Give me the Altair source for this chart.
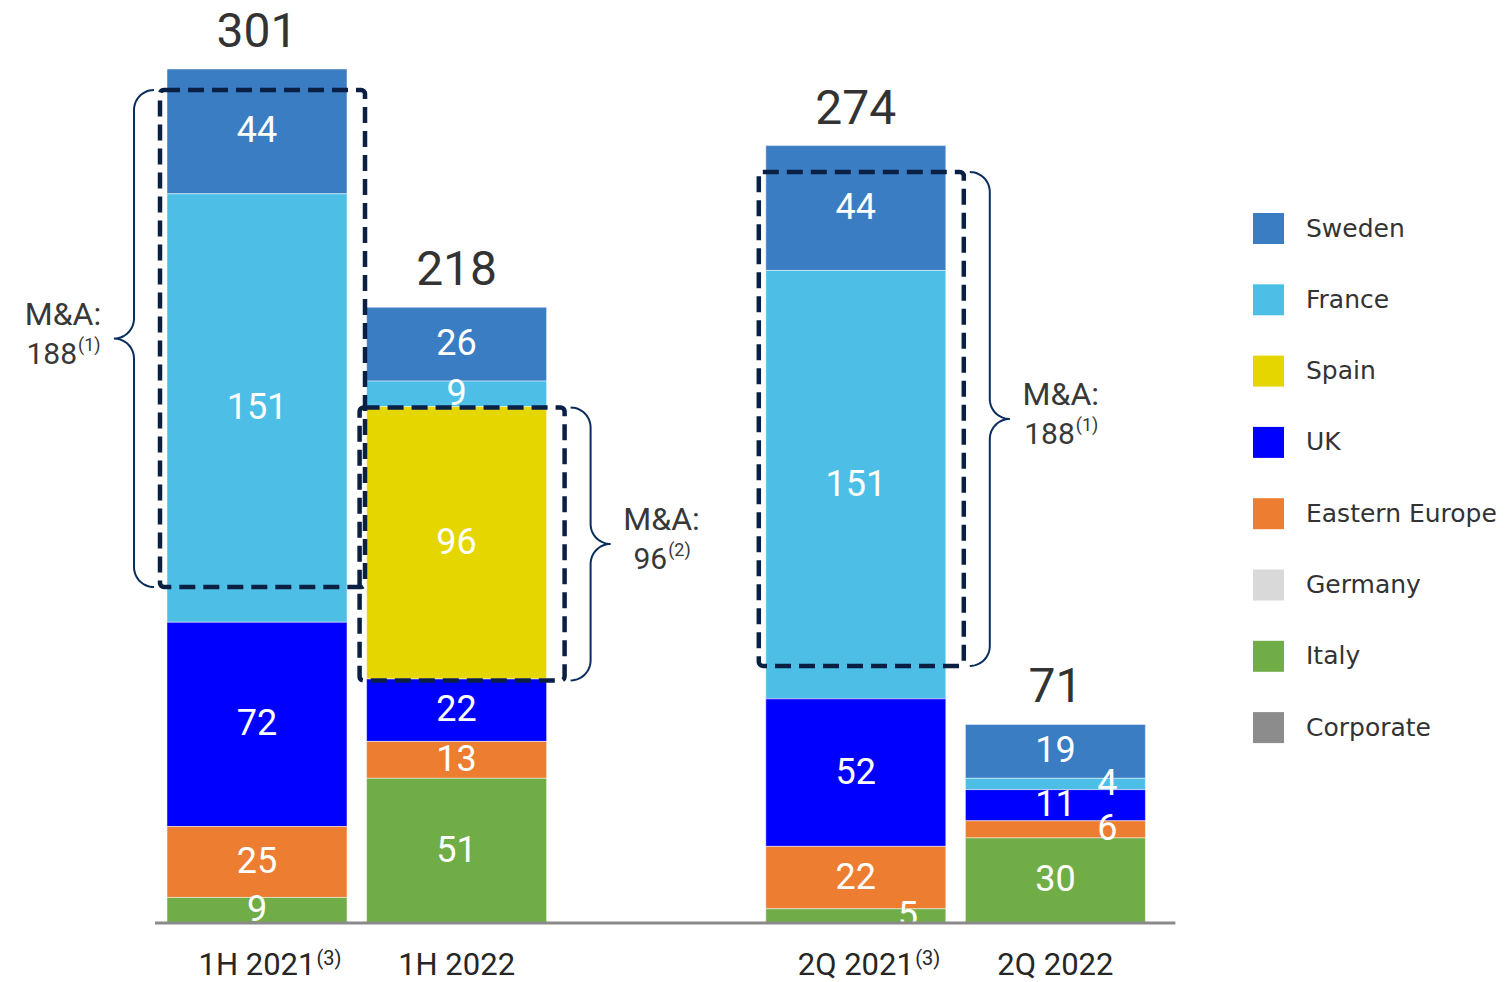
import altair as alt
import pandas as pd
import numpy as np

# ---------------- data ----------------
periods = ["1H 2021", "1H 2022", "2Q 2021", "2Q 2022"]
period_notes = ["(3)", "", "(3)", ""]
regions = ["Sweden", "France", "Spain", "UK", "Eastern Europe", "Germany", "Italy", "Corporate"]
colors = ["#3a7dc3", "#4dbfe6", "#e6d600", "#0000ff", "#ed7d31", "#d9d9d9", "#70ad47", "#8c8c8c"]

sweden = [44, 26, 44, 19]
france = [151, 9, 151, 4]
spain = [0, 96, 0, 0]
uk = [72, 22, 52, 11]
eastern_europe = [25, 13, 22, 6]
germany = [0, 0, 0, 0]
italy = [9, 51, 5, 30]
corporate = [0, 0, 0, 0]
totals = [301, 218, 274, 71]

# labels drawn beside the segment instead of centred (tiny segments)
side_labels = [("2Q 2021", "Italy"), ("2Q 2022", "France"), ("2Q 2022", "Eastern Europe")]

# M&A annotations (value range enclosed by the dashed box)
ma_periods = ["1H 2021", "1H 2022", "2Q 2021"]
ma_low = [118.4, 85.5, 90.6]
ma_high = [293.6, 181.7, 264.7]
ma_side = [-1, 1, 1]
ma_value = ["188", "96", "188"]
ma_note = ["(1)", "(2)", "(1)"]

# ---------------- layout ----------------
W, H = 1511, 982
X0_PX, STEP_PX = 257.0, 199.6       # first bar centre, category step
BASE_PX, PPU = 923.0, 2.8372         # baseline pixel, pixels per unit
x_domain = [(0 - X0_PX) / STEP_PX, (W - X0_PX) / STEP_PX]
y_domain = [(BASE_PX - H) / PPU, BASE_PX / PPU]


def ux(px):
    return px / STEP_PX


def uy(px):
    return px / PPU


pos = {p: i + (1 if i >= 2 else 0) for i, p in enumerate(periods)}

xs = alt.Scale(domain=x_domain, nice=False, zero=False, padding=0)
ys = alt.Scale(domain=y_domain, nice=False, zero=False, padding=0)


def X(f):
    return alt.X(f, type="quantitative", scale=xs, axis=None)


def Y(f):
    return alt.Y(f, type="quantitative", scale=ys, axis=None)


series = {
    "Sweden": sweden, "France": france, "Spain": spain, "UK": uk,
    "Eastern Europe": eastern_europe, "Germany": germany, "Italy": italy,
    "Corporate": corporate,
}
rows = []
for ri, r in enumerate(regions):
    for pi, p in enumerate(periods):
        v = series[r][pi]
        if v > 0:
            rows.append(dict(period=p, region=r, value=v, rank=ri, pos=pos[p],
                             side=(p, r) in side_labels))
df_bars = pd.DataFrame(rows)

FONT = "Roboto"
TXT = "#383838"

base = alt.Chart(df_bars).transform_stack(
    stack="value", as_=["v0", "v1"], groupby=["period"],
    sort=[alt.SortField("rank", order="descending")],
).transform_calculate(mid="(datum.v0 + datum.v1) / 2")

bars = base.mark_bar(size=180, stroke="white", strokeWidth=0.8, strokeOpacity=0.6).encode(
    x=X("pos"),
    y=Y("v0"),
    y2="v1:Q",
    color=alt.Color(
        "region:N",
        scale=alt.Scale(domain=regions, range=colors),
        legend=alt.Legend(
            title=None, orient="none", legendX=1253, legendY=213,
            symbolType="square", symbolSize=961, symbolStrokeWidth=0,
            symbolOpacity=1,
            labelFont="DejaVu Sans", labelFontSize=25, labelColor="#333333",
            labelOffset=22, rowPadding=40.3, padding=0, labelLimit=400,
        ),
    ),
)

lab_c = base.transform_filter("!datum.side").mark_text(
    font=FONT, fontSize=36, color="white", baseline="middle"
).encode(x=X("pos"), y=Y("mid"), text="value:Q")

lab_s = base.transform_filter("datum.side").mark_text(
    font=FONT, fontSize=36, color="white", baseline="middle", dx=52
).encode(x=X("pos"), y=Y("mid"), text="value:Q")

# totals
df_tot = pd.DataFrame({
    "pos": [pos[p] for p in periods],
    "top": [sum(series[r][i] for r in regions) for i in range(len(periods))],
    "label": [str(t) for t in totals],
})
tot = alt.Chart(df_tot).mark_text(
    font=FONT, fontSize=48, color="#333333", baseline="alphabetic", dy=-22
).encode(x=X("pos"), y=Y("top"), text="label:N")

# baseline
df_base = pd.DataFrame({
    "x1": [pos[periods[0]] - ux(102)], "x2": [pos[periods[-1]] + ux(120)], "y": [0.0]
})
baseline = alt.Chart(df_base).mark_rule(color="#8a8a8a", strokeWidth=3).encode(
    x=X("x1"), x2="x2:Q", y=Y("y")
)

# x labels
AX_F = 31
df_ax = pd.DataFrame({
    "pos": [pos[p] for p in periods],
    "label": periods,
    "note": period_notes,
    "y": [0.0] * len(periods),
})
df_ax["note_x"] = df_ax["pos"] + ux(3.77 * AX_F / 2 + 1)
ax_main = alt.Chart(df_ax).mark_text(
    font=FONT, fontSize=AX_F, color="#262626", baseline="middle", dy=43
).encode(x=X("pos"), y=Y("y"), text="label:N")
ax_note = alt.Chart(df_ax).transform_filter("datum.note != ''").mark_text(
    font=FONT, fontSize=20, color="#262626", baseline="middle", align="left", dy=36
).encode(x=X("note_x"), y=Y("y"), text="note:N")

# M&A boxes
df_ma = pd.DataFrame({
    "pos": [pos[p] for p in ma_periods],
    "low": ma_low, "high": ma_high, "side": ma_side,
    "value": ma_value, "note": ma_note,
})
df_ma["xl"] = df_ma["pos"] - ux(97)
df_ma["xr"] = df_ma["pos"] + ux(108)
boxes = alt.Chart(df_ma).mark_rect(
    fill="white", fillOpacity=0, stroke="#0a1f44", strokeWidth=4.5,
    strokeDash=[16, 8], cornerRadius=4
).encode(x=X("xl"), x2="xr:Q", y=Y("low"), y2="high:Q")

# braces
brace_rows = []
Rx, Ry = ux(20), uy(20)
t = np.linspace(0, np.pi / 2, 14)
for bi, r in df_ma.iterrows():
    d = r["side"]
    edge = r["xr"] if d > 0 else r["xl"]
    xh = edge + d * ux(6)
    xsp = xh + d * Rx
    lo, hi = r["low"], r["high"]
    ym = (lo + hi) / 2
    pts = []
    pts += [(xh + d * Rx * np.sin(a), hi - Ry + Ry * np.cos(a)) for a in t]
    pts += [(xsp + d * Rx - d * Rx * np.cos(a), ym + Ry - Ry * np.sin(a)) for a in t]
    pts += [(xsp + d * Rx - d * Rx * np.sin(a), ym - Ry + Ry * np.cos(a)) for a in t]
    pts += [(xh + d * Rx * np.cos(a), lo + Ry - Ry * np.sin(a)) for a in t]
    for si, (px_, py_) in enumerate(pts):
        brace_rows.append(dict(bid=bi, seq=si, x=px_, y=py_))
    tip = xsp + d * Rx
    df_ma.loc[bi, "lx"] = tip + d * ux(51)
    df_ma.loc[bi, "ym"] = ym
df_brace = pd.DataFrame(brace_rows)
braces = alt.Chart(df_brace).mark_line(color="#0b2d5e", strokeWidth=2).encode(
    x=X("x"), y=Y("y"), detail="bid:N", order="seq:Q"
)

NUM_F, SUP_F = 30, 18
num_w = df_ma["value"].str.len() * 0.562 * NUM_F
sup_w = 1.25 * SUP_F
df_ma["nx"] = df_ma["lx"] + ((num_w + sup_w) / 2 - sup_w) / STEP_PX
df_ma["sx"] = df_ma["nx"] + ux(1)
df_ma["ma"] = "M&A:"

ma_t1 = alt.Chart(df_ma).mark_text(
    font=FONT, fontSize=32, color=TXT, baseline="middle", dy=-24
).encode(x=X("lx"), y=Y("ym"), text="ma:N")
ma_t2 = alt.Chart(df_ma).mark_text(
    font=FONT, fontSize=NUM_F, color=TXT, baseline="middle", align="right", dy=16
).encode(x=X("nx"), y=Y("ym"), text="value:N")
ma_t3 = alt.Chart(df_ma).mark_text(
    font=FONT, fontSize=SUP_F, color=TXT, baseline="middle", align="left", dy=7
).encode(x=X("sx"), y=Y("ym"), text="note:N")

chart = alt.layer(
    bars, lab_c, lab_s, tot, baseline, ax_main, ax_note, boxes, braces, ma_t1, ma_t2, ma_t3
).properties(
    width=W, height=H, autosize=alt.AutoSizeParams(type="none"), padding=0
).configure_view(stroke=None)

chart.save("out.html", embed_options={"renderer": "svg", "actions": False})
